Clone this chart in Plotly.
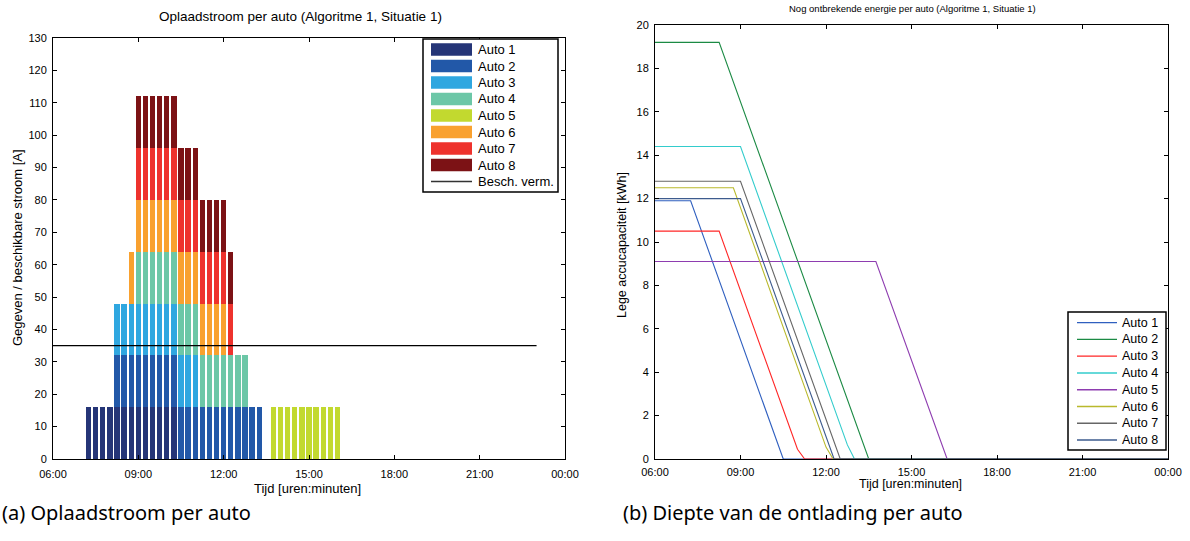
import pandas as pd
import plotly.graph_objects as go

BASE = pd.Timestamp("2024-01-01")

def t(hhmm):
    return BASE + pd.to_timedelta(hhmm + ":00")

# ---- Charging current per car, 15-minute slots from 07:15 to 16:00 ----
SLOT_START = "07:15"
N_SLOTS = 36
STROOM_AUTO_1 = [16, 16, 16, 16, 16, 16, 16, 16, 16, 16, 16, 16, 16, 0, 0, 0, 0, 0, 0, 0, 0, 0, 0, 0, 0, 0, 0, 0, 0, 0, 0, 0, 0, 0, 0, 0]
STROOM_AUTO_2 = [0, 0, 0, 0, 16, 16, 16, 16, 16, 16, 16, 16, 16, 16, 16, 16, 16, 16, 16, 16, 16, 16, 16, 16, 16, 0, 0, 0, 0, 0, 0, 0, 0, 0, 0, 0]
STROOM_AUTO_3 = [0, 0, 0, 0, 16, 16, 16, 16, 16, 16, 16, 16, 16, 16, 16, 16, 0, 0, 0, 0, 0, 0, 0, 0, 0, 0, 0, 0, 0, 0, 0, 0, 0, 0, 0, 0]
STROOM_AUTO_4 = [0, 0, 0, 0, 0, 0, 0, 16, 16, 16, 16, 16, 16, 16, 16, 16, 16, 16, 16, 16, 16, 16, 16, 0, 0, 0, 0, 0, 0, 0, 0, 0, 0, 0, 0, 0]
STROOM_AUTO_5 = [0, 0, 0, 0, 0, 0, 0, 0, 0, 0, 0, 0, 0, 0, 0, 0, 0, 0, 0, 0, 0, 0, 0, 0, 0, 0, 16, 16, 16, 16, 16, 16, 16, 16, 16, 16]
STROOM_AUTO_6 = [0, 0, 0, 0, 0, 0, 16, 16, 16, 16, 16, 16, 16, 16, 16, 16, 16, 16, 16, 16, 0, 0, 0, 0, 0, 0, 0, 0, 0, 0, 0, 0, 0, 0, 0, 0]
STROOM_AUTO_7 = [0, 0, 0, 0, 0, 0, 0, 16, 16, 16, 16, 16, 16, 16, 16, 16, 16, 16, 16, 16, 16, 0, 0, 0, 0, 0, 0, 0, 0, 0, 0, 0, 0, 0, 0, 0]
STROOM_AUTO_8 = [0, 0, 0, 0, 0, 0, 0, 16, 16, 16, 16, 16, 16, 16, 16, 16, 16, 16, 16, 16, 16, 0, 0, 0, 0, 0, 0, 0, 0, 0, 0, 0, 0, 0, 0, 0]

# Available capacity of the connection
BESCH_TIJD = ["06:00", "23:00"]
BESCH_STROOM = [35, 35]

# ---- Remaining energy per car (kWh) ----
ENERGIE_TIJD_1 = ["06:00", "07:15", "10:30", "24:00"]
ENERGIE_KWH_1 = [11.9, 11.9, 0, 0]
ENERGIE_TIJD_2 = ["06:00", "08:15", "13:30", "24:00"]
ENERGIE_KWH_2 = [19.2, 19.2, 0, 0]
ENERGIE_TIJD_3 = ["06:00", "08:15", "11:00", "11:15", "24:00"]
ENERGIE_KWH_3 = [10.5, 10.5, 0.45, 0, 0]
ENERGIE_TIJD_4 = ["06:00", "09:00", "12:45", "13:00", "24:00"]
ENERGIE_KWH_4 = [14.4, 14.4, 0.65, 0, 0]
ENERGIE_TIJD_5 = ["06:00", "13:45", "16:15", "24:00"]
ENERGIE_KWH_5 = [9.1, 9.1, 0, 0]
ENERGIE_TIJD_6 = ["06:00", "08:45", "12:00", "12:15", "24:00"]
ENERGIE_KWH_6 = [12.5, 12.5, 0.55, 0, 0]
ENERGIE_TIJD_7 = ["06:00", "09:00", "12:30", "24:00"]
ENERGIE_KWH_7 = [12.8, 12.8, 0, 0]
ENERGIE_TIJD_8 = ["06:00", "09:00", "12:17", "24:00"]
ENERGIE_KWH_8 = [12.0, 12.0, 0, 0]

AUTOS = ["Auto 1", "Auto 2", "Auto 3", "Auto 4", "Auto 5", "Auto 6", "Auto 7", "Auto 8"]
BESCH_NAAM = "Besch. verm."
BAR_COLORS = ["#253577", "#2258a8", "#2fa7e0", "#6cc7a7", "#c2d92f", "#f9a12f", "#ee322d", "#7c1215"]
LINE_COLORS = ["#2f5fbf", "#1b8a44", "#ff2626", "#33cccc", "#8e3db0", "#b9b92c", "#666666", "#3d5b8e"]

stroom = [STROOM_AUTO_1, STROOM_AUTO_2, STROOM_AUTO_3, STROOM_AUTO_4,
          STROOM_AUTO_5, STROOM_AUTO_6, STROOM_AUTO_7, STROOM_AUTO_8]
e_tijd = [ENERGIE_TIJD_1, ENERGIE_TIJD_2, ENERGIE_TIJD_3, ENERGIE_TIJD_4,
          ENERGIE_TIJD_5, ENERGIE_TIJD_6, ENERGIE_TIJD_7, ENERGIE_TIJD_8]
e_kwh = [ENERGIE_KWH_1, ENERGIE_KWH_2, ENERGIE_KWH_3, ENERGIE_KWH_4,
         ENERGIE_KWH_5, ENERGIE_KWH_6, ENERGIE_KWH_7, ENERGIE_KWH_8]

slots = pd.date_range(t(SLOT_START), periods=N_SLOTS, freq="15min")

W, H = 1190, 541
FONT = "Liberation Sans"

def px_x(p):
    return p / W

def px_y(p):
    return 1 - p / H

fig = go.Figure()

for name, vals, col in zip(AUTOS, stroom, BAR_COLORS):
    fig.add_trace(go.Bar(x=slots, y=vals, name=name, marker_color=col,
                         marker_line_width=0, xaxis="x", yaxis="y",
                         showlegend=False))

fig.add_trace(go.Scatter(x=[t(s) for s in BESCH_TIJD], y=BESCH_STROOM,
                         mode="lines", name=BESCH_NAAM,
                         line=dict(color="black", width=1.2),
                         xaxis="x", yaxis="y", showlegend=False))

for name, tt, kwh, col in zip(AUTOS, e_tijd, e_kwh, LINE_COLORS):
    fig.add_trace(go.Scatter(x=[t(s) for s in tt], y=kwh, mode="lines",
                             name=name, line=dict(color=col, width=1.1),
                             xaxis="x2", yaxis="y2", showlegend=False))

axis_common = dict(showline=True, linecolor="black", linewidth=1, mirror="ticks",
                   ticks="inside", ticklen=4, tickcolor="black", showgrid=False,
                   zeroline=False, automargin=False,
                   tickfont=dict(family=FONT, size=11, color="black"))

xr = [t("06:00"), t("24:00")]

fig.update_layout(
    width=W, height=H, margin=dict(l=0, r=0, t=0, b=0, autoexpand=False),
    paper_bgcolor="white", plot_bgcolor="white",
    barmode="stack", bargap=0.24, showlegend=False,
    font=dict(family=FONT, size=11, color="black"),
    xaxis=dict(domain=[px_x(53), px_x(565)], range=xr, type="date",
               tickformat="%H:%M", dtick=3 * 3600 * 1000, anchor="y",
               ticklabelstandoff=5, **axis_common),
    yaxis=dict(domain=[px_y(459), px_y(38)], range=[0, 130], dtick=10, anchor="x",
               ticklabelstandoff=3, **axis_common),
    xaxis2=dict(domain=[px_x(655), px_x(1168)], range=xr, type="date",
                tickformat="%H:%M", dtick=3 * 3600 * 1000, anchor="y2",
                ticklabelstandoff=3, **axis_common),
    yaxis2=dict(domain=[px_y(459), px_y(25)], range=[0, 20], dtick=2, anchor="x2",
                ticklabelstandoff=3, **axis_common),
)

def label(text, x, y, size, angle=0, xanchor="center", family=FONT):
    fig.add_annotation(text=text, x=px_x(x), y=px_y(y), xref="paper", yref="paper",
                       showarrow=False, textangle=angle, xanchor=xanchor,
                       yanchor="middle", font=dict(family=family, size=size, color="black"))

# Titles and axis labels
label("Oplaadstroom per auto (Algoritme 1, Situatie 1)", 300, 17, 13.5)
label("Nog ontbrekende energie per auto (Algoritme 1, Situatie 1)", 912, 9, 9.5)
label("Tijd [uren:minuten]", 307, 488, 13)
label("Tijd [uren:minuten]", 911, 484, 12.5)
label("Gegeven / beschikbare stroom [A]", 17, 248, 13, angle=-90)
label("Lege accucapaciteit [kWh]", 622, 245, 12.5, angle=-90)

# Captions under the panels
label("(a) Oplaadstroom per auto", 0, 512, 20, xanchor="left", family="Noto Sans")
label("(b) Diepte van de ontlading per auto", 621, 512, 20, xanchor="left", family="Noto Sans")

# Legend of the current panel
shapes = []
shapes.append(dict(type="rect", xref="paper", yref="paper",
                   x0=px_x(423), x1=px_x(558), y0=px_y(192), y1=px_y(39),
                   line=dict(color="black", width=1.5), fillcolor="white"))
row0, pitch = 49.5, 16.5
for i, (name, col) in enumerate(zip(AUTOS, BAR_COLORS)):
    yc = row0 + i * pitch
    shapes.append(dict(type="rect", xref="paper", yref="paper",
                       x0=px_x(431), x1=px_x(472), y0=px_y(yc + 6.3), y1=px_y(yc - 6.3),
                       line=dict(width=0), fillcolor=col))
    label(name, 476, yc, 13, xanchor="left")
yc = row0 + 8 * pitch
shapes.append(dict(type="line", xref="paper", yref="paper",
                   x0=px_x(431), x1=px_x(472), y0=px_y(yc), y1=px_y(yc),
                   line=dict(color="#333333", width=1.5)))
label(BESCH_NAAM, 476, yc, 13, xanchor="left")

# Legend of the energy panel
shapes.append(dict(type="rect", xref="paper", yref="paper",
                   x0=px_x(1068), x1=px_x(1166), y0=px_y(450), y1=px_y(312),
                   line=dict(color="black", width=1.5), fillcolor="white"))
row0, pitch = 322.7, 16.76
for i, (name, col) in enumerate(zip(AUTOS, LINE_COLORS)):
    yc = row0 + i * pitch
    shapes.append(dict(type="line", xref="paper", yref="paper",
                       x0=px_x(1077), x1=px_x(1117), y0=px_y(yc), y1=px_y(yc),
                       line=dict(color=col, width=1.3)))
    label(name, 1120, yc, 12.5, xanchor="left")

fig.update_layout(shapes=shapes)

fig.write_html("out.html")
